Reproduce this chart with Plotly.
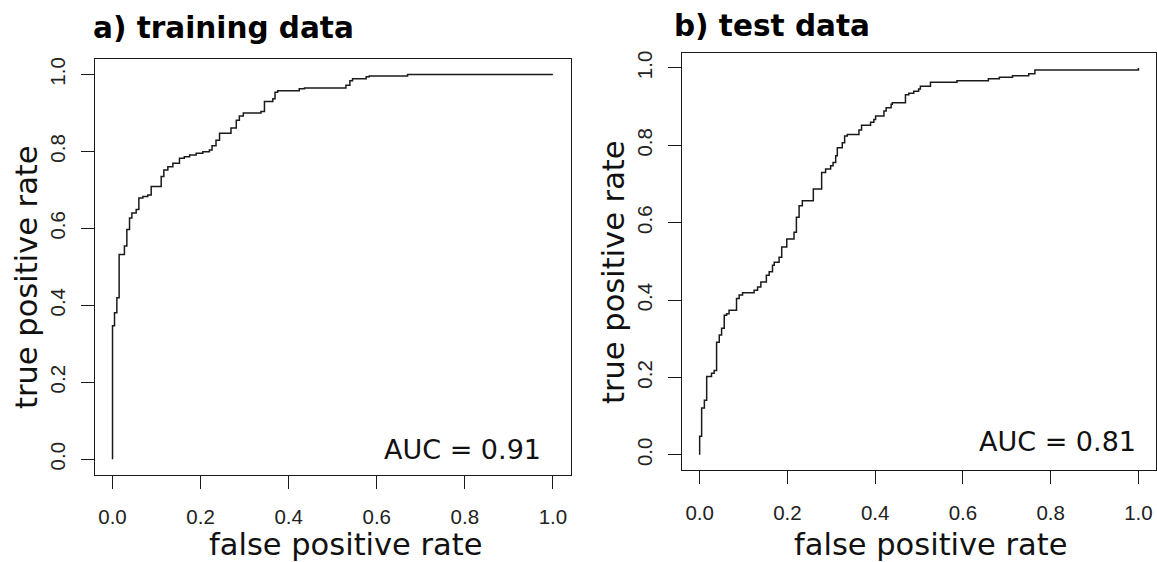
import plotly.graph_objects as go

# ---- data ----
train_fpr = [0.0, 0.0, 0.0045, 0.0098, 0.0150, 0.027, 0.0325, 0.0386, 0.0439, 0.0537, 0.0598,
             0.0688, 0.080, 0.0878, 0.1105, 0.1165, 0.1256, 0.137, 0.152, 0.163, 0.175, 0.190,
             0.205, 0.220, 0.226, 0.235, 0.243, 0.269, 0.281, 0.288, 0.297, 0.337, 0.345, 0.364,
             0.369, 0.375, 0.424, 0.436, 0.530, 0.539, 0.545, 0.576, 0.583, 0.670, 1.0]
train_tpr = [0.0, 0.347, 0.381, 0.420, 0.532, 0.554, 0.597, 0.627, 0.640, 0.649, 0.679,
             0.683, 0.687, 0.709, 0.735, 0.752, 0.760, 0.769, 0.782, 0.786, 0.791, 0.795,
             0.799, 0.804, 0.815, 0.829, 0.847, 0.861, 0.881, 0.892, 0.900, 0.904, 0.930, 0.937,
             0.954, 0.958, 0.963, 0.965, 0.972, 0.984, 0.989, 0.994, 0.996, 1.0, 1.0]

test_fpr = [0.0, 0.0, 0.0045, 0.0107, 0.016, 0.027, 0.033, 0.0386, 0.0447, 0.050, 0.056, 0.0614,
            0.067, 0.084, 0.090, 0.0978, 0.124, 0.132, 0.1395, 0.152, 0.1584, 0.166, 0.170, 0.181,
            0.187, 0.1985, 0.215, 0.2205, 0.2266, 0.234, 0.259, 0.278, 0.287, 0.2985, 0.304,
            0.310, 0.3137, 0.325, 0.3304, 0.3364, 0.363, 0.369, 0.3895, 0.397, 0.401, 0.420, 0.425,
            0.4364, 0.439, 0.469, 0.4766, 0.4879, 0.499, 0.503, 0.526, 0.5864, 0.658, 0.683,
            0.713, 0.750, 0.764, 1.0]
test_tpr = [0.0, 0.048, 0.121, 0.141, 0.2025, 0.211, 0.218, 0.291, 0.310, 0.327, 0.361, 0.365,
            0.374, 0.404, 0.413, 0.419, 0.4255, 0.434, 0.447, 0.464, 0.473, 0.490, 0.498, 0.511,
            0.537, 0.558, 0.5755, 0.614, 0.644, 0.657, 0.687, 0.730, 0.739, 0.747, 0.756,
            0.773, 0.794, 0.807, 0.824, 0.828, 0.840, 0.852, 0.860, 0.867, 0.876, 0.889, 0.897,
            0.906, 0.910, 0.931, 0.935, 0.940, 0.946, 0.953, 0.963, 0.967, 0.972, 0.976,
            0.980, 0.985, 0.995, 1.0]

tick_vals = [0.0, 0.2, 0.4, 0.6, 0.8, 1.0]
tick_text = ["0.0", "0.2", "0.4", "0.6", "0.8", "1.0"]
panel_titles = ["a) training data", "b) test data"]
auc_labels = ["AUC = 0.91", "AUC = 0.81"]
x_title = "false positive rate"
y_title = "true positive rate"

W, H = 1157, 562
LINE = "#1a1a1a"
TICKFONT = dict(family="Liberation Sans, Arial, sans-serif", size=20.5, color="#222")
TXTFONT = "DejaVu Sans, Verdana, sans-serif"

fig = go.Figure()
fig.add_trace(go.Scatter(x=train_fpr, y=train_tpr, mode="lines", line_shape="hv",
                         line=dict(color=LINE, width=1.5), xaxis="x", yaxis="y",
                         showlegend=False, hoverinfo="skip"))
fig.add_trace(go.Scatter(x=test_fpr, y=test_tpr, mode="lines", line_shape="hv",
                         line=dict(color=LINE, width=1.5), xaxis="x2", yaxis="y2",
                         showlegend=False, hoverinfo="skip"))


def px_x(p):
    return p / W


def px_y(p):
    return 1 - p / H


axis_common = dict(range=[-0.04, 1.04], showgrid=False, zeroline=False, showline=True,
                   mirror=True, linecolor=LINE, linewidth=1, ticks="outside", ticklen=13,
                   tickwidth=1, tickcolor=LINE, tickvals=tick_vals, ticktext=tick_text,
                   tickfont=TICKFONT, fixedrange=True)

fig.update_layout(
    width=W, height=H,
    margin=dict(l=0, r=0, t=0, b=0),
    paper_bgcolor="white", plot_bgcolor="white",
    xaxis=dict(domain=[px_x(95), px_x(571)], anchor="y", ticklabelstandoff=11, **axis_common),
    yaxis=dict(domain=[px_y(474.3), px_y(57.3)], anchor="x", tickangle=-90,
               ticklabelstandoff=8, **axis_common),
    xaxis2=dict(domain=[px_x(682.7), 1.0], anchor="y2", ticklabelstandoff=11, **axis_common),
    yaxis2=dict(domain=[px_y(470), px_y(50.7)], anchor="x2", tickangle=-90,
                ticklabelstandoff=8, **axis_common),
)

ann = []
# panel titles
ann.append(dict(text="<b>" + panel_titles[0] + "</b>", x=px_x(91), y=px_y(26), xref="paper",
                yref="paper", xanchor="left", yanchor="middle", showarrow=False,
                font=dict(family=TXTFONT, size=29.5, color="black")))
ann.append(dict(text="<b>" + panel_titles[1] + "</b>", x=px_x(673), y=px_y(24), xref="paper",
                yref="paper", xanchor="left", yanchor="middle", showarrow=False,
                font=dict(family=TXTFONT, size=29.5, color="black")))
# x axis titles
for cx in (346, 932):
    ann.append(dict(text=x_title, x=px_x(cx), y=px_y(544), xref="paper", yref="paper",
                    xanchor="center", yanchor="middle", showarrow=False,
                    font=dict(family=TXTFONT, size=30.5, color="#111")))
# y axis titles
for cx, cy in ((26, 276), (614, 270.5)):
    ann.append(dict(text=y_title, x=px_x(cx), y=px_y(cy), xref="paper", yref="paper",
                    xanchor="center", yanchor="middle", textangle=-90, showarrow=False,
                    font=dict(family=TXTFONT, size=30.5, color="#111")))
# AUC labels
ann.append(dict(text=auc_labels[0], x=0.612, y=0.025, xref="x", yref="y", xanchor="left",
                yanchor="middle", showarrow=False,
                font=dict(family=TXTFONT, size=27, color="#111")))
ann.append(dict(text=auc_labels[1], x=0.999, y=0.035, xref="x2", yref="y2", xanchor="right",
                yanchor="middle", showarrow=False,
                font=dict(family=TXTFONT, size=27, color="#111")))
fig.update_layout(annotations=ann)

# the page's default body margin would shift the fixed-size figure; remove it
fig.write_html("out.html", config={"displayModeBar": False},
               post_script="document.body.style.margin='0';document.body.style.overflow='hidden';")
